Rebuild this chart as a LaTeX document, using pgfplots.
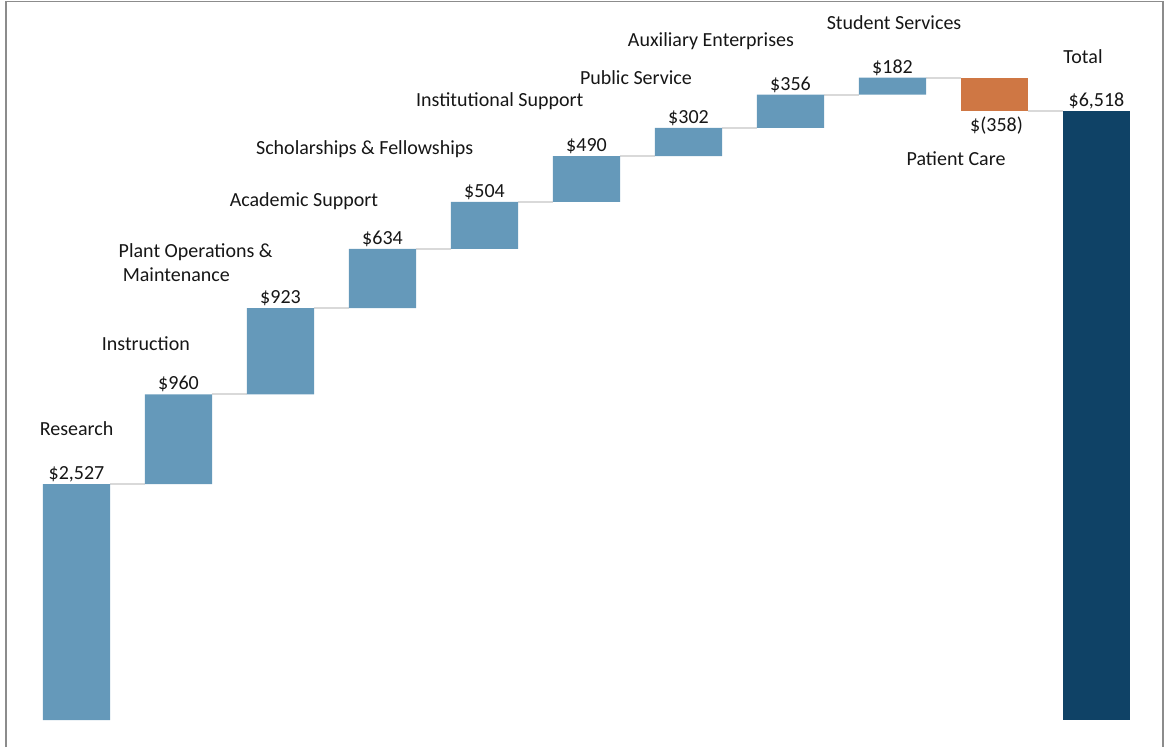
\documentclass[border=0pt]{standalone}
\usepackage{pgfplots}
\pgfplotsset{compat=1.18}
\usepackage{fontspec}
\setmainfont{Carlito}
\definecolor{lightbar}{HTML}{6599BA}
\definecolor{darkbar}{HTML}{0F4266}
\definecolor{orangebar}{HTML}{CF7744}
\definecolor{conn}{HTML}{D9D9D9}
\definecolor{txt}{HTML}{161616}
\newcommand\lf{\fontsize{10}{12}\selectfont}
\pgfplotsset{common/.style={
  scale only axis, width=582pt, height=373.5pt,
  xmin=-0.75, xmax=10.662, ymin=-289, ymax=7709,
  xtick=\empty, ytick=\empty, clip=false, hide axis}}
\begin{document}
\begin{tikzpicture}[font=\lf, text=txt]
% connector lines and value labels
\begin{axis}[common]
\path (rel axis cs:0,0) rectangle (rel axis cs:1,1);
\draw[black!45, line width=0.8pt] (axis cs:-0.691,-289) |- (axis cs:10.652,7693) -- (axis cs:10.652,-289);
\addplot[conn, line width=0.9pt, unbounded coords=jump] coordinates {
(0.328,2527) (0.672,2527) (0.7,nan)
(1.328,3487) (1.672,3487) (1.7,nan)
(2.328,4410) (2.672,4410) (2.7,nan)
(3.328,5044) (3.672,5044) (3.7,nan)
(4.328,5548) (4.672,5548) (4.7,nan)
(5.328,6038) (5.672,6038) (5.7,nan)
(6.328,6340) (6.672,6340) (6.7,nan)
(7.328,6696) (7.672,6696) (7.7,nan)
(8.328,6878) (8.672,6878) (8.7,nan)
(9.328,6520) (9.672,6520)
};
\addplot[draw=none, mark=none, nodes near coords, point meta=explicit symbolic,
  every node near coord/.append style={anchor=base, yshift=2.3pt, font=\lf, text=txt}] coordinates {
(0,2527) [\$2,527] (1,3487) [\$960] (2,4410) [\$923] (3,5044) [\$634] (4,5548) [\$504]
(5,6038) [\$490] (6,6340) [\$302] (7,6696) [\$356] (8,6878) [\$182] (10,6518) [\$6,518]};
\end{axis}
% bars
\begin{axis}[common, ybar stacked, bar width=33.5pt]
\addplot[fill=none, draw=none] coordinates {(0,0) (1,2527) (2,3487) (3,4410) (4,5044) (5,5548) (6,6038) (7,6340) (8,6696) (9,6520) (10,0)};
\addplot[fill=lightbar, draw=none] coordinates {
(0,2527) (1,960) (2,923) (3,634) (4,504) (5,490) (6,302) (7,356) (8,182) (9,0) (10,0)};
\addplot[fill=orangebar, draw=none] coordinates {(0,0) (1,0) (2,0) (3,0) (4,0) (5,0) (6,0) (7,0) (8,0) (9,358) (10,0)};
\addplot[fill=darkbar, draw=none] coordinates {
(0,0) (1,0) (2,0) (3,0) (4,0) (5,0) (6,0) (7,0) (8,0) (9,0) (10,6518)};
% labels
\node[anchor=base] at (axis cs:9.02,6298) {\$(358)};
\node[anchor=base] at (axis cs:0.0,3041) {Research};
\node[anchor=base] at (axis cs:0.68,3961) {Instruction};
\node[anchor=base west, inner xsep=0pt] at (axis cs:0.41,4957) {Plant Operations \&};
\node[anchor=base west, inner xsep=0pt] at (axis cs:0.45,4690) {Maintenance};
\node[anchor=base] at (axis cs:2.23,5503) {Academic Support};
\node[anchor=base] at (axis cs:2.825,6060) {Scholarships \& Fellowships};
\node[anchor=base] at (axis cs:4.15,6574) {Institutional Support};
\node[anchor=base] at (axis cs:5.485,6809) {Public Service};
\node[anchor=base] at (axis cs:6.22,7206) {Auxiliary Enterprises};
\node[anchor=base] at (axis cs:8.015,7388) {Student Services};
\node[anchor=base] at (axis cs:8.623,5942) {Patient Care};
\node[anchor=base] at (axis cs:9.868,7034) {Total};
\end{axis}
\end{tikzpicture}
\end{document}
